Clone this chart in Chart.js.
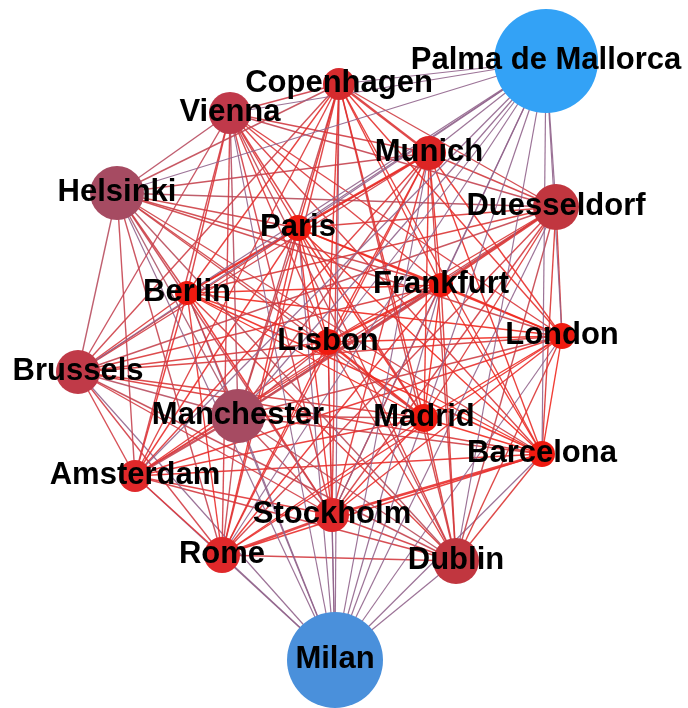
<!DOCTYPE html>
<html>
<head>
<meta charset="utf-8">
<script src="https://cdn.jsdelivr.net/npm/chart.js@4"></script>
<style>
  html, body { margin: 0; padding: 0; background: #fff; }
  #wrap { width: 688px; height: 708px; }
</style>
</head>
<body>
<div id="wrap"><canvas id="myChart" width="688" height="708"></canvas></div>
<script>
// nodos (ciudades) y su posicion en el layout
const ciudades = ['Palma de Mallorca', 'Copenhagen', 'Vienna', 'Munich', 'Helsinki', 'Duesseldorf', 'Paris',
  'Berlin', 'Frankfurt', 'London', 'Lisbon', 'Brussels', 'Manchester', 'Madrid', 'Barcelona',
  'Amsterdam', 'Stockholm', 'Rome', 'Dublin', 'Milan'];
const posX = [546, 339, 230, 429, 117, 556, 298, 187, 441, 562, 328, 78, 238, 424, 542, 135, 332, 222, 456, 335];
const posY = [61, 84, 113, 153, 193, 207, 228, 293, 285, 336, 342, 372, 416, 418, 454, 476, 515, 555, 561, 660];
const tamanos = [52, 16, 21, 17, 27, 23, 13, 12, 12, 13, 13, 22, 27, 14, 13, 16, 17, 18, 23, 48];
const colores = ['#33a2f6', '#d62b2e', '#c0394a', '#dd2525', '#a64b62', '#c1363f', '#ef1a10',
  '#ef1a10', '#ef1a10', '#ef1a10', '#ef1a10', '#c03a48', '#a64b62', '#ef1a10', '#ef1a10',
  '#e0282a', '#e0282a', '#e0282a', '#c1363f', '#4a90db'];
const azules = ['Palma de Mallorca', 'Milan'];

// aristas mas gruesas
const aristasGruesas = [['Paris', 'Berlin'], ['Lisbon', 'Frankfurt'], ['Duesseldorf', 'Frankfurt'],
  ['Manchester', 'Frankfurt'], ['Rome', 'Stockholm'], ['Amsterdam', 'Manchester'],
  ['Barcelona', 'Stockholm'], ['Munich', 'Copenhagen'], ['Munich', 'Paris'], ['Madrid', 'Lisbon']];

function hexToRgb(h) {
  const n = parseInt(h.slice(1), 16);
  return [(n >> 16) & 255, (n >> 8) & 255, n & 255];
}

function mezclar(a, b) {
  const c1 = hexToRgb(a), c2 = hexToRgb(b);
  const m = c1.map((v, i) => Math.round(((v + c2[i]) / 2) * 0.94 + 255 * 0.06));
  return `rgba(${m[0]},${m[1]},${m[2]},0.9)`;
}

function esGruesa(a, b) {
  return aristasGruesas.some(p => (p[0] === a && p[1] === b) || (p[0] === b && p[1] === a));
}

const datasets = [];

// aristas: todos los pares (menos entre los dos nodos azules)
for (let i = 0; i < ciudades.length; i++) {
  for (let j = i + 1; j < ciudades.length; j++) {
    const azulI = azules.includes(ciudades[i]), azulJ = azules.includes(ciudades[j]);
    if (azulI && azulJ) continue;
    const conAzul = azulI || azulJ;
    datasets.push({
      type: 'line',
      data: [{ x: posX[i], y: posY[i] }, { x: posX[j], y: posY[j] }],
      borderColor: conAzul ? 'rgba(145,100,140,0.9)' : mezclar(colores[i], colores[j]),
      borderWidth: esGruesa(ciudades[i], ciudades[j]) ? 2.4 : (conAzul ? 1.2 : 1.4),
      pointRadius: 0,
      showLine: true,
      fill: false,
      clip: false,
      order: 2
    });
  }
}

// nodos
datasets.push({
  type: 'bubble',
  data: ciudades.map((c, i) => ({ x: posX[i], y: posY[i], r: tamanos[i] })),
  backgroundColor: colores,
  borderWidth: 0,
  hoverRadius: 0,
  clip: false,
  order: 1
});

const etiquetas = {
  id: 'etiquetas',
  afterDatasetsDraw(chart) {
    const ctx = chart.ctx;
    const sx = chart.scales.x, sy = chart.scales.y;
    ctx.save();
    ctx.font = 'bold 31px "Liberation Sans", Arial, sans-serif';
    ctx.fillStyle = '#000';
    ctx.textAlign = 'center';
    ctx.textBaseline = 'middle';
    ciudades.forEach((c, i) => {
      ctx.fillText(c, sx.getPixelForValue(posX[i]), sy.getPixelForValue(posY[i]) - 1);
    });
    ctx.restore();
  }
};

const config = {
  type: 'scatter',
  data: { datasets: datasets },
  options: {
    responsive: false,
    animation: false,
    devicePixelRatio: 1,
    events: [],
    layout: { padding: 0, autoPadding: false },
    plugins: { legend: { display: false }, tooltip: { enabled: false } },
    scales: {
      x: { type: 'linear', min: 0, max: 688, display: false },
      y: { type: 'linear', min: 0, max: 708, reverse: true, display: false }
    }
  },
  plugins: [etiquetas]
};

const chart = new Chart(document.getElementById('myChart'), config);
</script>
</body>
</html>
